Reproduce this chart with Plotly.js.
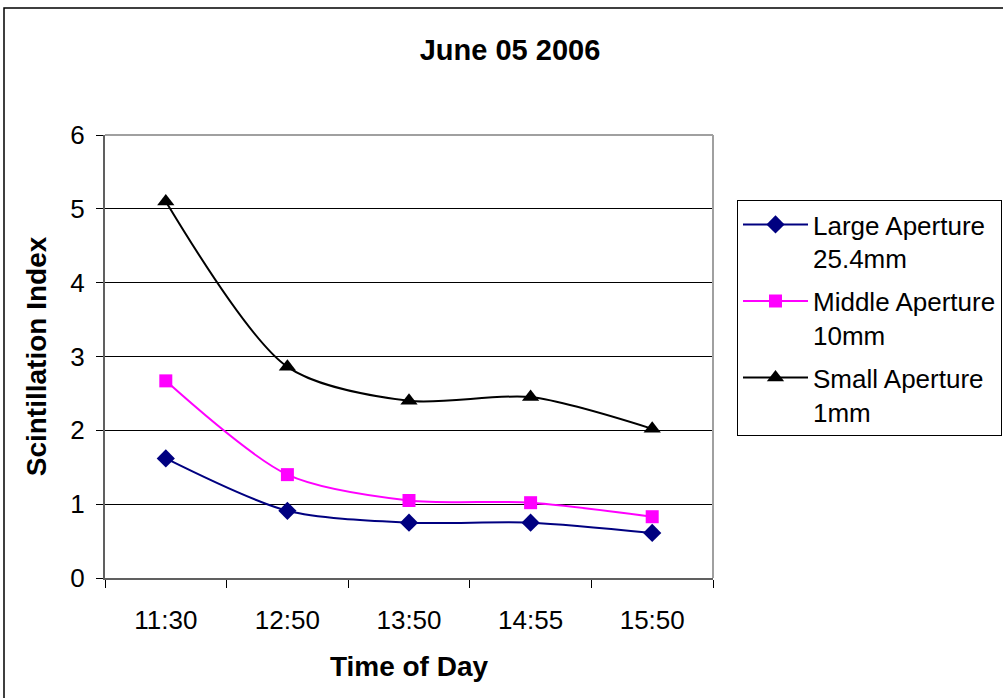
<!DOCTYPE html>
<html>
<head>
<meta charset="utf-8">
<script src="https://cdn.plot.ly/plotly-3.0.1.min.js"></script>
<style>
  html, body { margin: 0; padding: 0; background: #fff; }
  #chart { width: 1003px; height: 698px; }
</style>
</head>
<body>
<div id="chart"></div>
<script>
// Time-of-day categories and scintillation index per aperture size
const times = ['11:30', '12:50', '13:50', '14:55', '15:50'];
const largeAperture = [1.62, 0.91, 0.75, 0.75, 0.61];
const middleAperture = [2.67, 1.40, 1.05, 1.02, 0.83];
const smallAperture = [5.10, 2.86, 2.40, 2.45, 2.02];
const yTicks = [0, 1, 2, 3, 4, 5, 6];

const FONT = 'Liberation Sans, Arial, sans-serif';

function series(name, group, values, color, symbol, size) {
  return {
    x: times,
    y: values,
    name: name,
    legendgroup: group,
    type: 'scatter',
    mode: 'lines+markers',
    line: { color: color, width: 2, shape: 'spline', smoothing: 0.8 },
    marker: { color: color, symbol: symbol, size: size, line: { width: 0 } }
  };
}

const traces = [
  series('Large Aperture<br>25.4mm', 'large', largeAperture, '#000080', 'diamond', 14),
  series('Middle Aperture<br>10mm', 'middle', middleAperture, '#FF00FF', 'square', 13),
  series('Small Aperture<br>1mm', 'small', smallAperture, '#000000', 'triangle-up', 15)
];

const layout = {
  width: 1003,
  height: 698,
  margin: { l: 105, r: 290, t: 135, b: 120, pad: 0, autoexpand: false },
  paper_bgcolor: '#ffffff',
  plot_bgcolor: '#ffffff',
  font: { family: FONT, size: 26, color: '#000' },
  title: {
    text: '<b>June 05 2006</b>',
    font: { family: FONT, size: 29, color: '#000' },
    x: 510 / 1003, xref: 'container', xanchor: 'center',
    y: 1 - 50 / 698, yref: 'container', yanchor: 'middle'
  },
  xaxis: {
    type: 'category',
    range: [-0.5, 4.5],
    tickson: 'boundaries',
    ticks: 'outside',
    ticklen: 8,
    tickcolor: '#000',
    tickwidth: 1,
    ticklabelstandoff: 18,
    showgrid: false,
    showline: true,
    linecolor: '#606060',
    linewidth: 2,
    automargin: false,
    tickfont: { family: FONT, size: 26 },
    title: { text: '<b>Time of Day</b>', font: { family: FONT, size: 28 }, standoff: 22 }
  },
  yaxis: {
    range: [0, 6],
    tickvals: yTicks,
    ticks: 'outside',
    ticklen: 7,
    tickcolor: '#000',
    ticklabelstandoff: 6,
    showgrid: true,
    gridcolor: '#000000',
    gridwidth: 1,
    zeroline: false,
    showline: true,
    linecolor: '#606060',
    linewidth: 2,
    automargin: false,
    tickfont: { family: FONT, size: 26 },
    title: { text: '<b>Scintillation Index</b>', font: { family: FONT, size: 28 }, standoff: 16 }
  },
  legend: {
    x: (737 - 105) / 608, xanchor: 'left',
    y: (578 - 200) / 443, yanchor: 'top',
    bordercolor: '#000', borderwidth: 1,
    bgcolor: '#fff',
    font: { family: FONT, size: 26 },
    valign: 'top',
    itemwidth: 65,
    tracegroupgap: 6
  },
  shapes: [
    // plot area top and right edges
    { type: 'line', xref: 'paper', yref: 'paper', x0: 0, x1: 1, y0: 1, y1: 1,
      line: { color: '#a0a0a0', width: 2 } },
    { type: 'line', xref: 'paper', yref: 'paper', x0: 1, x1: 1, y0: 0, y1: 1,
      line: { color: '#a0a0a0', width: 2 } },
    // outer chart frame
    { type: 'rect', xref: 'paper', yref: 'paper',
      x0: (4 - 105) / 608, x1: (1020 - 105) / 608,
      y0: (578 - 710) / 443, y1: (578 - 8) / 443,
      line: { color: '#000', width: 1.5 }, layer: 'below' }
  ],
  showlegend: true
};

Plotly.newPlot('chart', traces, layout, { displayModeBar: false, staticPlot: true });
</script>
</body>
</html>
